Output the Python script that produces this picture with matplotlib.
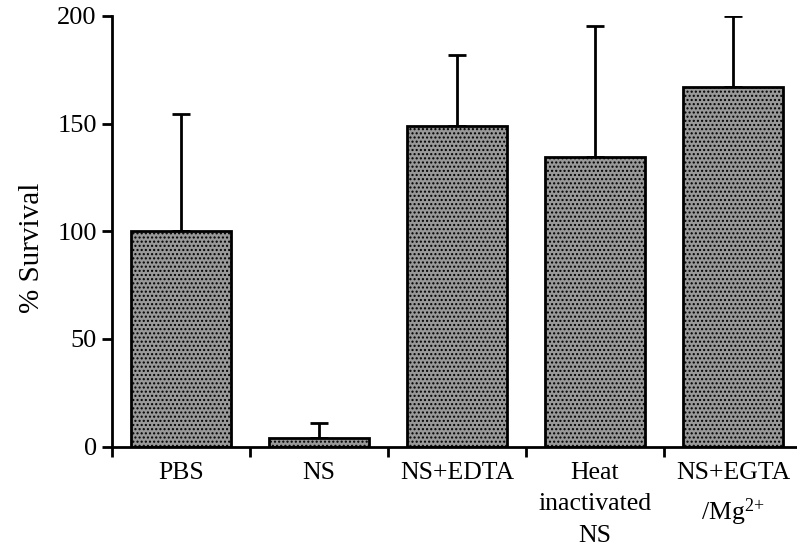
import matplotlib as mpl
mpl.use('Agg')
import matplotlib.pyplot as plt

categories = ["PBS", "NS", "NS+EDTA", "Heat\ninactivated\nNS", "NS+EGTA\n/Mg$^{2{+}}$"]
survival = [100, 4, 149, 134.5, 167]
upper_err = [54.5, 7, 33, 61, 33]


def main():
    plt.rcParams['font.family'] = ['Liberation Serif', 'DejaVu Serif']
    plt.rcParams['mathtext.fontset'] = 'custom'
    plt.rcParams['mathtext.rm'] = 'Liberation Serif'
    plt.rcParams['mathtext.it'] = 'Liberation Serif'
    plt.rcParams['hatch.color'] = '#4a4a4a'

    fig = plt.figure(figsize=(7.97, 5.5), dpi=100)
    ax = fig.add_axes([0.1405, 0.188, 0.859, 0.783])

    x = range(len(categories))
    ax.bar(x, survival, width=0.72, color='#999999', edgecolor='black',
           linewidth=2, hatch='....', zorder=2)
    ax.errorbar(x, survival, yerr=[[0] * len(x), upper_err], fmt='none',
                ecolor='black', elinewidth=2, capsize=6.5, capthick=2, zorder=1)

    ax.set_xlim(-0.5, 4.46)
    ax.set_ylim(0, 200)
    ax.set_yticks([0, 50, 100, 150, 200])
    ax.set_xticks([i - 0.5 for i in range(5)], minor=False)
    ax.set_xticklabels([])
    ax.set_xticks(list(x), minor=True)
    ax.set_xticklabels(categories, minor=True, fontsize=18.5, linespacing=1.55,
                       va='top')
    ax.tick_params(axis='x', which='minor', length=0, pad=11)
    ax.tick_params(axis='x', which='major', length=7, width=2, direction='out')
    ax.tick_params(axis='y', length=7, width=2, labelsize=19, pad=4)

    for side in ['top', 'right']:
        ax.spines[side].set_visible(False)
    for side in ['left', 'bottom']:
        ax.spines[side].set_linewidth(2)

    ax.set_ylabel("% Survival", fontsize=21)
    ax.yaxis.set_label_coords(-0.098, 0.462)
    fig.savefig('out.png', dpi=100)


if __name__ == '__main__':
    main()
